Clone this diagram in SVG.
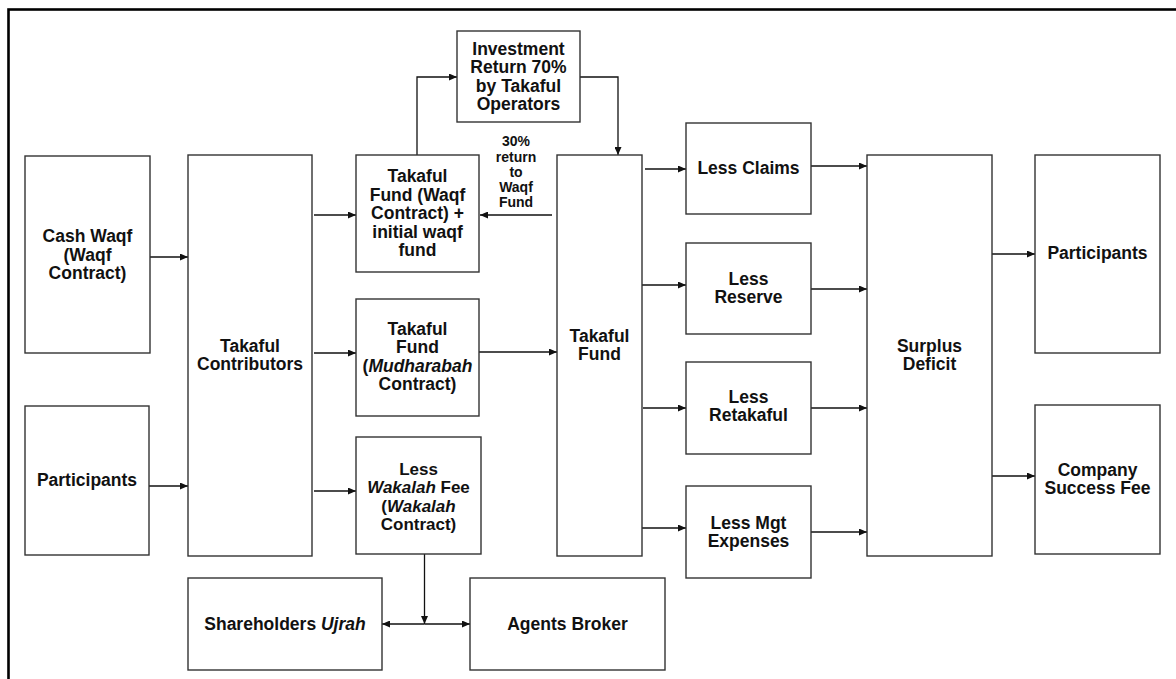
<svg xmlns="http://www.w3.org/2000/svg" width="1176" height="679" viewBox="0 0 1176 679">
<defs>
<marker id="ah" viewBox="0 0 8 7" refX="8" refY="3.5" markerWidth="8" markerHeight="7" markerUnits="userSpaceOnUse" orient="auto-start-reverse">
<path d="M0,0 L8,3.5 L0,7 z" fill="#111"/>
</marker>
<style>
.box{fill:#fff;stroke:#333;stroke-width:1.4}
.t{font-family:"Liberation Sans",Arial,sans-serif;font-weight:bold;font-size:17.5px;fill:#111;text-anchor:middle;dominant-baseline:central}
.s{font-size:14px}
.w{font-size:17px}
.c{fill:none;stroke:#111;stroke-width:1.3;marker-end:url(#ah)}
.i{font-style:italic}
</style>
</defs>
<rect width="1176" height="679" fill="#fff"/>
<rect x="8.5" y="9.5" width="1200" height="700" fill="none" stroke="#000" stroke-width="2.6"/>

<g id="connectors">
<line class="c" x1="150" y1="257" x2="188" y2="257"/>
<line class="c" x1="149" y1="486" x2="188" y2="486"/>
<line class="c" x1="314" y1="215" x2="356" y2="215"/>
<line class="c" x1="314" y1="353" x2="356" y2="353"/>
<line class="c" x1="314" y1="491" x2="356" y2="491"/>
<polyline class="c" points="417,155 417,77 457,77"/>
<polyline class="c" points="580,77 618,77 618,155"/>
<line class="c" x1="552" y1="215" x2="480" y2="215"/>
<line class="c" x1="479" y1="352" x2="557" y2="352"/>
<line class="c" x1="645" y1="169" x2="686" y2="169"/>
<line class="c" x1="642" y1="285" x2="686" y2="285"/>
<line class="c" x1="643" y1="408" x2="686" y2="408"/>
<line class="c" x1="642" y1="528" x2="686" y2="528"/>
<line class="c" x1="811" y1="166" x2="867" y2="166"/>
<line class="c" x1="811" y1="289" x2="867" y2="289"/>
<line class="c" x1="811" y1="408" x2="867" y2="408"/>
<line class="c" x1="811" y1="532" x2="867" y2="532"/>
<line class="c" x1="992" y1="254" x2="1035" y2="254"/>
<line class="c" x1="992" y1="476" x2="1035" y2="476"/>
<line class="c" x1="424.5" y1="554" x2="424.5" y2="624"/>
<line class="c" x1="424.5" y1="624" x2="382" y2="624"/>
<line class="c" x1="424.5" y1="624" x2="470" y2="624"/>
<text class="t s" x="516"><tspan x="516" y="141">30%</tspan><tspan x="516" y="156.5">return</tspan><tspan x="516" y="172">to</tspan><tspan x="516" y="187">Waqf</tspan><tspan x="516" y="202">Fund</tspan></text>
</g>

<g id="cash-waqf">
<rect class="box" x="25" y="156" width="125" height="197"/>
<text class="t"><tspan x="87.5" y="236">Cash Waqf</tspan><tspan x="87.5" y="255">(Waqf</tspan><tspan x="87.5" y="273">Contract)</tspan></text>
</g>
<g id="participants-left">
<rect class="box" x="25" y="406" width="124" height="149"/>
<text class="t" x="87" y="480">Participants</text>
</g>
<g id="takaful-contributors">
<rect class="box" x="188" y="155" width="124" height="401"/>
<text class="t"><tspan x="250" y="346">Takaful</tspan><tspan x="250" y="364">Contributors</tspan></text>
</g>
<g id="investment-return">
<rect class="box" x="457" y="31" width="123" height="91"/>
<text class="t"><tspan x="518.5" y="49">Investment</tspan><tspan x="518.5" y="67">Return 70%</tspan><tspan x="518.5" y="85.5">by Takaful</tspan><tspan x="518.5" y="104">Operators</tspan></text>
</g>
<g id="takaful-fund-waqf">
<rect class="box" x="356" y="155" width="123" height="117"/>
<text class="t"><tspan x="417.5" y="176">Takaful</tspan><tspan x="417.5" y="194.5">Fund (Waqf</tspan><tspan x="417.5" y="213">Contract) +</tspan><tspan x="417.5" y="231.5">initial waqf</tspan><tspan x="417.5" y="250">fund</tspan></text>
</g>
<g id="takaful-fund-mudharabah">
<rect class="box" x="356" y="299" width="123" height="117"/>
<text class="t"><tspan x="417.5" y="328.5">Takaful</tspan><tspan x="417.5" y="347">Fund</tspan><tspan x="417.5" y="365.5">(<tspan class="i">Mudharabah</tspan></tspan><tspan x="417.5" y="384">Contract)</tspan></text>
</g>
<g id="less-wakalah-fee">
<rect class="box" x="356" y="437" width="125" height="117"/>
<text class="t w"><tspan x="418.5" y="468.5">Less</tspan><tspan x="418.5" y="487"><tspan class="i">Wakalah</tspan> Fee</tspan><tspan x="418.5" y="505.5">(<tspan class="i">Wakalah</tspan></tspan><tspan x="418.5" y="524">Contract)</tspan></text>
</g>
<g id="shareholders-ujrah">
<rect class="box" x="188" y="578" width="194" height="92"/>
<text class="t" x="285" y="624">Shareholders <tspan class="i">Ujrah</tspan></text>
</g>
<g id="agents-broker">
<rect class="box" x="470" y="578" width="195" height="92"/>
<text class="t" x="567.5" y="624">Agents Broker</text>
</g>
<g id="takaful-fund">
<rect class="box" x="557" y="155" width="85" height="401"/>
<text class="t"><tspan x="599.5" y="336">Takaful</tspan><tspan x="599.5" y="354">Fund</tspan></text>
</g>
<g id="less-claims">
<rect class="box" x="686" y="123" width="125" height="91"/>
<text class="t" x="748.5" y="168">Less Claims</text>
</g>
<g id="less-reserve">
<rect class="box" x="686" y="243" width="125" height="91"/>
<text class="t"><tspan x="748.5" y="279">Less</tspan><tspan x="748.5" y="297">Reserve</tspan></text>
</g>
<g id="less-retakaful">
<rect class="box" x="686" y="362" width="125" height="92"/>
<text class="t"><tspan x="748.5" y="397">Less</tspan><tspan x="748.5" y="415">Retakaful</tspan></text>
</g>
<g id="less-mgt-expenses">
<rect class="box" x="686" y="486" width="125" height="92"/>
<text class="t"><tspan x="748.5" y="523">Less Mgt</tspan><tspan x="748.5" y="541">Expenses</tspan></text>
</g>
<g id="surplus-deficit">
<rect class="box" x="867" y="155" width="125" height="401"/>
<text class="t"><tspan x="929.5" y="346">Surplus</tspan><tspan x="929.5" y="364">Deficit</tspan></text>
</g>
<g id="participants-right">
<rect class="box" x="1035" y="155" width="125" height="198"/>
<text class="t" x="1097.5" y="253">Participants</text>
</g>
<g id="company-success-fee">
<rect class="box" x="1035" y="405" width="125" height="149"/>
<text class="t"><tspan x="1097.5" y="470">Company</tspan><tspan x="1097.5" y="488">Success Fee</tspan></text>
</g>
</svg>
